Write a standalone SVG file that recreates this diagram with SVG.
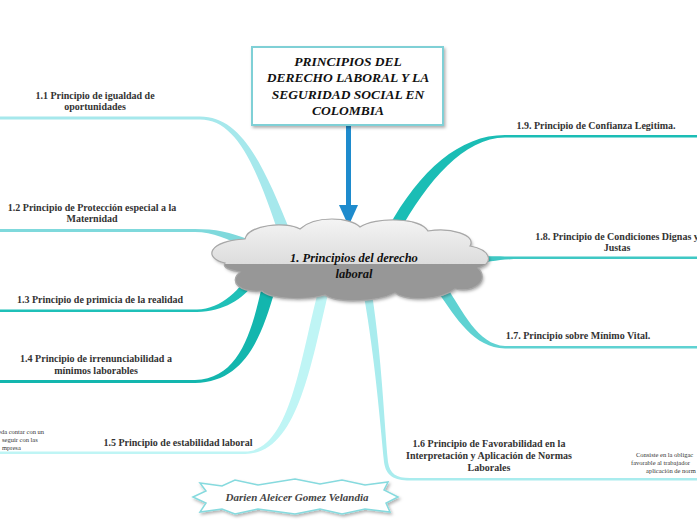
<svg xmlns="http://www.w3.org/2000/svg" width="697" height="520" viewBox="0 0 697 520">
<defs>
<style>
.lbl{font-family:"Liberation Serif","Times New Roman",serif;font-weight:bold;font-size:10px;fill:#333;text-anchor:middle}
.sm{font-family:"Liberation Serif","Times New Roman",serif;font-size:6.5px;fill:#333}
.ttl{font-family:"Liberation Serif","Times New Roman",serif;font-weight:bold;font-style:italic;font-size:13.5px;fill:#111;text-anchor:middle}
.ctr{font-family:"Liberation Serif","Times New Roman",serif;font-weight:bold;font-style:italic;font-size:12.5px;fill:#111;text-anchor:middle}
.auth{font-family:"Liberation Serif","Times New Roman",serif;font-weight:bold;font-style:italic;font-size:11px;fill:#444;text-anchor:middle}
</style>
<linearGradient id="cg" x1="0" y1="0" x2="0" y2="1">
<stop offset="0" stop-color="#f4f4f4"/>
<stop offset="1" stop-color="#c9c9c9"/>
</linearGradient>
<clipPath id="top"><rect x="0" y="0" width="697" height="264"/></clipPath>
<filter id="sh" x="-10%" y="-20%" width="130%" height="150%">
<feDropShadow dx="1.5" dy="2" stdDeviation="1.5" flood-color="#000" flood-opacity="0.3"/>
</filter>
<path id="cloud" d="M225,263 C203,258 208,241 245,239 C248,225 285,221 300,229 C315,215 350,217 360,227 C375,217 420,217 428,231 C450,227 477,235 470,246 C492,250 494,264 478,268 C490,280 475,293 455,289 C440,301 405,301 395,293 C375,303 335,303 325,295 C305,301 270,299 262,291 C240,293 228,282 240,272 C230,270 222,268 225,263 Z"/>
</defs>
<rect width="697" height="520" fill="#fff"/>

<g id="connectors">
<path d="M0,116.5 L200,116.5 C240,116.5 262,160 292,236 L280,238 C256,165 236,119.5 200,119.5 L0,119.5 Z" fill="#a6e8ec"/>
<path d="M0,229 L195,229 C215,229 230,232 250,240 L246,248 C228,239 213,232 195,232 L0,232 Z" fill="#7fd9dc"/>
<path d="M255,266 C240,290 222,309 197,309.5 L0,309.5 L0,312 L197,312 C228,311 248,296 262,272 Z" fill="#1fc0b8"/>
<path d="M262,286 C252,330 240,379 195,380 L0,380 L0,383 L195,383 C246,382 262,335 275,290 Z" fill="#13b6ae"/>
<path d="M318,292 C300,360 290,451 245,451.5 L0,451.5 L0,454 L245,454 C296,454 310,370 328,294 Z" fill="#bff5f5"/>
<path d="M372,294 C382,360 384,420 388,462 C390,474 396,478 410,478 L697,478 L697,480.5 L410,480.5 C394,480.5 386,476 384,462 C380,420 375,360 364,296 Z" fill="#a9ecee"/>
<path d="M446,286 C462,310 478,345 505,346 L697,346 L697,348.5 L505,348.5 C474,348 456,318 438,292 Z" fill="#5fd2d2"/>
<path d="M470,256 C490,256 500,256.5 520,256.5 L697,256.5 L697,259 L520,259 C500,259 490,262 470,264 Z" fill="#3fc8c4"/>
<path d="M388,228 C420,170 460,135 505,135 L697,135 L697,137.5 L505,137.5 C464,138 428,180 398,234 Z" fill="#1bbdb5"/>
<line x1="348.5" y1="125" x2="348.5" y2="210" stroke="#1e8bcd" stroke-width="5"/>
<polygon points="339,205 358,205 348.5,226" fill="#1e8bcd"/>
</g>

<g id="title">
<rect x="252" y="47" width="191" height="78" fill="#fff" stroke="#7fd0d6" stroke-width="2" filter="url(#sh)"/>
<text class="ttl" x="348" y="66">PRINCIPIOS DEL</text>
<text class="ttl" x="348" y="82">DERECHO LABORAL Y LA</text>
<text class="ttl" x="348" y="99">SEGURIDAD SOCIAL EN</text>
<text class="ttl" x="348" y="115">COLOMBIA</text>
</g>

<g id="center">
<use href="#cloud" fill="#979797" filter="url(#sh)"/>
<use href="#cloud" fill="url(#cg)" clip-path="url(#top)"/>
<use href="#cloud" fill="none" stroke="#a8a8a8" stroke-width="1.2"/>
<text class="ctr" x="354" y="262">1. Principios del derecho</text>
<text class="ctr" x="354" y="278">laboral</text>
</g>

<g id="n11"><text class="lbl" x="95" y="99">1.1 Principio de igualdad de</text><text class="lbl" x="95" y="110">oportunidades</text></g>
<g id="n12"><text class="lbl" x="92" y="211">1.2 Principio de Protección especial a la</text><text class="lbl" x="92" y="222">Maternidad</text></g>
<g id="n13"><text class="lbl" x="100" y="303">1.3 Principio de  primicia de la realidad</text></g>
<g id="n14"><text class="lbl" x="96" y="362">1.4 Principio de irrenunciabilidad a</text><text class="lbl" x="96" y="374">mínimos laborables</text></g>
<g id="n15"><text class="lbl" x="178" y="446">1.5 Principio de estabilidad laboral</text>
<text class="sm" x="-2" y="434">eda contar con un</text><text class="sm" x="2" y="442">seguir con las</text><text class="sm" x="2" y="450">mpresa</text></g>
<g id="n16"><text class="lbl" x="489" y="447">1.6 Principio de Favorabilidad en la</text><text class="lbl" x="489" y="459">Interpretación y Aplicación de Normas</text><text class="lbl" x="489" y="471">Laborales</text>
<text class="sm" x="636" y="457">Consiste en la obligac</text><text class="sm" x="631" y="465">favorable al trabajador</text><text class="sm" x="646" y="473">aplicación de norm</text></g>
<g id="n17"><text class="lbl" x="578" y="339">1.7. Principio sobre Mínimo Vital.</text></g>
<g id="n18"><text class="lbl" x="617" y="240">1.8. Principio de Condiciones Dignas y</text><text class="lbl" x="617" y="251">Justas</text></g>
<g id="n19"><text class="lbl" x="596" y="129">1.9. Principio de Confianza Legitima.</text></g>

<g id="author">
<polygon points="193,497 206,491 200,483 222,486 235,480 258,485 295,479 320,484 342,480 365,485 388,482 384,490 398,497 386,503 390,512 365,509 342,514 320,509 295,514 258,509 235,514 222,509 200,512 206,503" fill="#fff" stroke="#86dade" stroke-width="1.5" filter="url(#sh)"/>
<text class="auth" x="297" y="501">Darien Aleicer Gomez Velandia</text>
</g>
</svg>
